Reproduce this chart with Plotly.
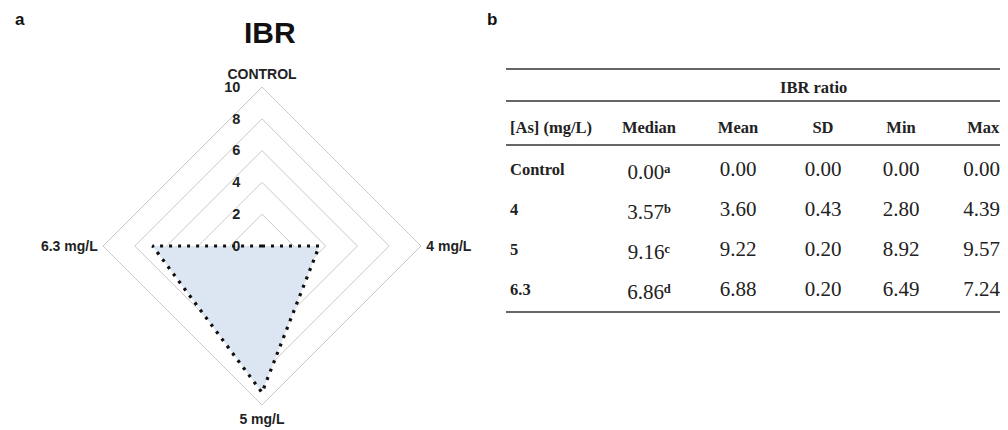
import plotly.graph_objects as go

# ---- data ----
radar_axes = ["CONTROL", "4 mg/L", "5 mg/L", "6.3 mg/L"]
ibr_values = [0.00, 3.60, 9.22, 6.88]
radial_ticks = [0, 2, 4, 6, 8, 10]

tbl_headers = ["[As]\u00a0(mg/L)", "Median", "Mean", "SD", "Min", "Max"]
tbl_groups = ["Control", "4", "5", "6.3"]
tbl_median = ["0.00", "3.57", "9.16", "6.86"]
tbl_median_sup = ["\u1d43", "\u1d47", "\u1d9c", "\u1d48"]  # a b c d
tbl_mean = ["0.00", "3.60", "9.22", "6.88"]
tbl_sd = ["0.00", "0.43", "0.20", "0.20"]
tbl_min = ["0.00", "2.80", "8.92", "6.49"]
tbl_max = ["0.00", "4.39", "9.57", "7.24"]

# page body has an 8px margin; size figure to fill the rest of the window
W, H = 1000, 422
OFF = 8


def X(px):
    return (px - OFF) / W


def Y(py):
    return 1 - (py - OFF) / H


fig = go.Figure()

theta = radar_axes + radar_axes[:1]
r = ibr_values + ibr_values[:1]
fig.add_trace(go.Scatterpolar(
    r=r, theta=theta, mode="lines", fill="toself",
    fillcolor="#dce6f2",
    line=dict(color="#111111", width=3.2, dash="3px,6px"),
    showlegend=False, hoverinfo="skip"))

fig.update_layout(
    width=W, height=H,
    margin=dict(l=0, r=0, t=0, b=0),
    paper_bgcolor="white",
    polar=dict(
        domain=dict(x=[X(102), X(422)], y=[Y(405), Y(87)]),
        gridshape="linear",
        bgcolor="white",
        radialaxis=dict(range=[0, 10], tickvals=radial_ticks,
                        ticktext=[f"<b>{v}</b>" for v in radial_ticks],
                        angle=90, tickangle=90,
                        showline=False, ticks="outside", ticklen=16,
                        tickcolor="rgba(0,0,0,0)", showgrid=True,
                        gridcolor="#c9c9c9", gridwidth=1,
                        tickfont=dict(family="Arial", size=14.5, color="#222"),
                        side="counterclockwise"),
        angularaxis=dict(direction="clockwise", rotation=90,
                         tickvals=radar_axes,
                         ticktext=[f"<b>{c}</b>" for c in radar_axes],
                         showgrid=False, showline=True, linecolor="#c9c9c9",
                         linewidth=1, ticks="outside", ticklen=2,
                         tickcolor="rgba(0,0,0,0)",
                         tickfont=dict(family="Arial", size=14, color="#222")),
    ),
)

# ---- table ----
median_txt = [f"{m}<b>{s}</b>" for m, s in zip(tbl_median, tbl_median_sup)]
aligns = ["left", "center", "center", "center", "center", "right"]
fig.add_trace(go.Table(
    domain=dict(x=[X(502), 1.0], y=[Y(312), Y(110)]),
    columnwidth=[98, 98, 80, 90, 66, 74],
    header=dict(values=[f"<b>{h}</b>" for h in tbl_headers],
                align=aligns,
                height=42, fill_color="white", line_color="white",
                font=dict(family="Liberation Serif", size=16.5, color="#222")),
    cells=dict(values=[[f"<b>{g}</b>" for g in tbl_groups], median_txt,
                       tbl_mean, tbl_sd, tbl_min, tbl_max],
               align=aligns,
               height=40, fill_color="white", line_color="white",
               font=dict(family="Liberation Serif",
                         size=[16.5, 21, 21, 21, 21, 21], color="#222")),
))

# booktabs rules
for y in [69, 101, 145, 312]:
    fig.add_shape(type="line", xref="paper", yref="paper",
                  x0=X(506), x1=1.0, y0=Y(y), y1=Y(y),
                  line=dict(color="#333", width=1.3))

fig.add_annotation(text="<b>IBR ratio</b>", x=X(813), y=Y(88),
                   xref="paper", yref="paper", showarrow=False,
                   xanchor="center", yanchor="middle",
                   font=dict(family="Liberation Serif", size=16.5, color="#222"))

fig.add_annotation(text="<b>IBR</b>", x=X(270), y=Y(32),
                   xref="paper", yref="paper", showarrow=False,
                   xanchor="center", yanchor="middle",
                   font=dict(family="Arial", size=30, color="#111"))
fig.add_annotation(text="<b>a</b>", x=X(20), y=Y(20),
                   xref="paper", yref="paper", showarrow=False,
                   xanchor="center", yanchor="middle",
                   font=dict(family="Arial", size=17, color="#111"))
fig.add_annotation(text="<b>b</b>", x=X(492), y=Y(20),
                   xref="paper", yref="paper", showarrow=False,
                   xanchor="center", yanchor="middle",
                   font=dict(family="Arial", size=17, color="#111"))

fig.write_html("out.html")
